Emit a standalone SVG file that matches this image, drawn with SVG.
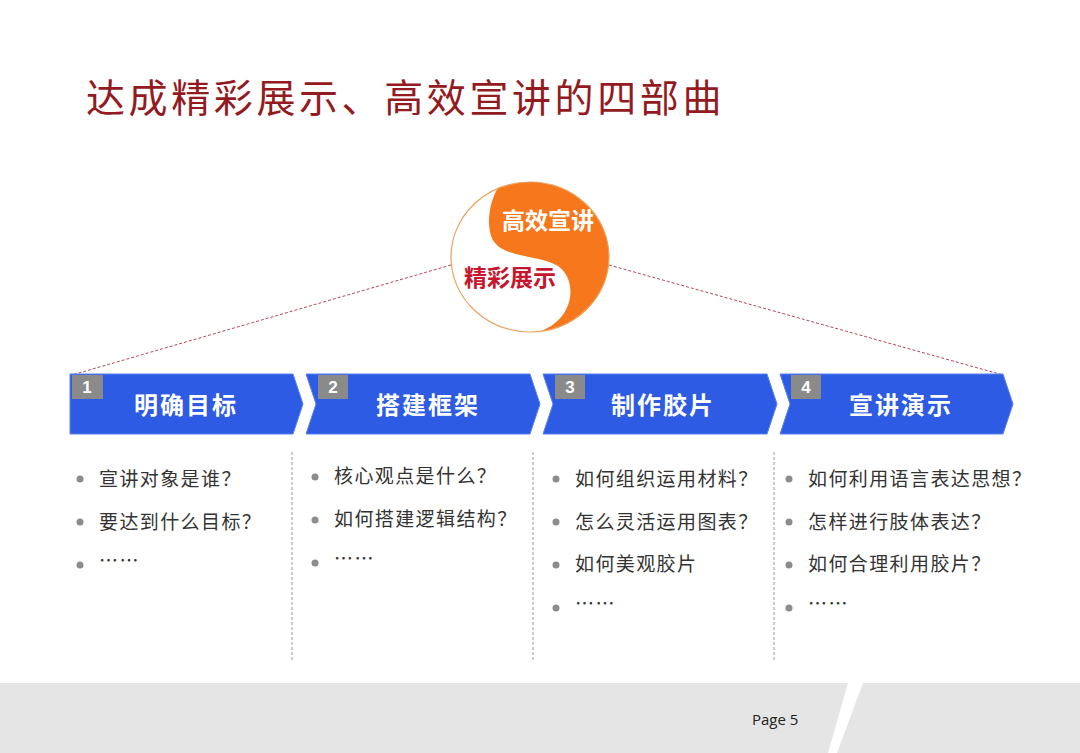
<svg xmlns="http://www.w3.org/2000/svg" width="1080" height="753" viewBox="0 0 1080 753">
<defs>
<clipPath id="circ"><ellipse cx="530" cy="257" rx="79" ry="75"/></clipPath>
</defs>
<style>
.title{font-family:"Noto Sans CJK SC","Liberation Serif",serif;font-size:39px;fill:#931B1F;letter-spacing:3.6px}
.chev{fill:#2D5BE4;stroke:#5C82EE;stroke-width:1}
.numbox{fill:#8A8A8A}
.num{font-family:"Liberation Sans",Arial,sans-serif;font-weight:bold;font-size:17px;fill:#fff;text-anchor:middle}
.lbl{font-family:"Noto Sans CJK SC",sans-serif;font-weight:bold;font-size:24px;fill:#fff;text-anchor:middle;letter-spacing:2px}
.item{font-family:"Noto Sans CJK SC",sans-serif;font-size:19px;fill:#333;letter-spacing:1.4px}
.dot{fill:#8C8C8C}
.sep{stroke:#9A9A9A;stroke-width:1;stroke-dasharray:3 2;fill:none}
.conn{stroke:#B0485A;stroke-width:1;stroke-dasharray:3 2;fill:none}
.yy{font-family:"Noto Sans CJK SC",sans-serif;font-weight:bold;font-size:23px;text-anchor:middle}
</style>
<rect width="1080" height="753" fill="#fff"/>
<text class="title" x="86" y="112">达成精彩展示、高效宣讲的四部曲</text>

<g id="connectors">
<line class="conn" x1="451" y1="265" x2="72" y2="375"/>
<line class="conn" x1="609" y1="265" x2="1003" y2="375"/>
</g>

<g id="yinyang">
<ellipse cx="530" cy="257" rx="79" ry="75" fill="#fff"/>
<path clip-path="url(#circ)" d="M 508 176 C 488 192, 484 230, 495 243 C 507 258, 540 255, 558 266 C 578 280, 575 318, 541 331 L 535 345 L 625 345 L 625 170 L 508 170 Z" fill="#F7781C"/>
<ellipse cx="530" cy="257" rx="79" ry="75" fill="none" stroke="#E9A25F" stroke-width="1.2"/>
<text class="yy" x="548" y="229" fill="#fff">高效宣讲</text>
<text class="yy" x="510" y="286" fill="#C5162E">精彩展示</text>
</g>

<g id="step1">
<path class="chev" d="M70 374 H293 L303 404 L293 434 H70 Z"/>
<rect class="numbox" x="72" y="375" width="31" height="24"/>
<text class="num" x="87" y="393">1</text>
<text class="lbl" x="186" y="414">明确目标</text>
</g>
<g id="step2">
<path class="chev" d="M306 374 H530 L540 404 L530 434 H306 L316 404 Z"/>
<rect class="numbox" x="318" y="375" width="30" height="24"/>
<text class="num" x="333" y="393">2</text>
<text class="lbl" x="428" y="414">搭建框架</text>
</g>
<g id="step3">
<path class="chev" d="M543 374 H767 L777 404 L767 434 H543 L553 404 Z"/>
<rect class="numbox" x="555" y="375" width="30" height="24"/>
<text class="num" x="570" y="393">3</text>
<text class="lbl" x="663" y="414">制作胶片</text>
</g>
<g id="step4">
<path class="chev" d="M780 374 H1003 L1013 404 L1003 434 H780 L790 404 Z"/>
<rect class="numbox" x="791" y="375" width="30" height="24"/>
<text class="num" x="806" y="393">4</text>
<text class="lbl" x="901" y="414">宣讲演示</text>
</g>

<g id="separators">
<line class="sep" x1="292" y1="452" x2="292" y2="662"/>
<line class="sep" x1="533" y1="452" x2="533" y2="662"/>
<line class="sep" x1="774" y1="452" x2="774" y2="662"/>
</g>

<g id="list1">
<circle class="dot" cx="80" cy="479" r="3.5"/><text class="item" x="99" y="486">宣讲对象是谁？</text>
<circle class="dot" cx="80" cy="522" r="3.5"/><text class="item" x="99" y="529">要达到什么目标？</text>
<circle class="dot" cx="80" cy="565" r="3.5"/><text class="item" x="99" y="568">……</text>
</g>
<g id="list2">
<circle class="dot" cx="315" cy="477" r="3.5"/><text class="item" x="334" y="483">核心观点是什么？</text>
<circle class="dot" cx="315" cy="520" r="3.5"/><text class="item" x="334" y="526">如何搭建逻辑结构？</text>
<circle class="dot" cx="315" cy="563" r="3.5"/><text class="item" x="334" y="566">……</text>
</g>
<g id="list3">
<circle class="dot" cx="556" cy="479" r="3.5"/><text class="item" x="575" y="486">如何组织运用材料？</text>
<circle class="dot" cx="556" cy="522" r="3.5"/><text class="item" x="575" y="529">怎么灵活运用图表？</text>
<circle class="dot" cx="556" cy="565" r="3.5"/><text class="item" x="575" y="571">如何美观胶片</text>
<circle class="dot" cx="556" cy="608" r="3.5"/><text class="item" x="575" y="611">……</text>
</g>
<g id="list4">
<circle class="dot" cx="789" cy="479" r="3.5"/><text class="item" x="808" y="486">如何利用语言表达思想？</text>
<circle class="dot" cx="789" cy="522" r="3.5"/><text class="item" x="808" y="529">怎样进行肢体表达？</text>
<circle class="dot" cx="789" cy="565" r="3.5"/><text class="item" x="808" y="571">如何合理利用胶片？</text>
<circle class="dot" cx="789" cy="608" r="3.5"/><text class="item" x="808" y="611">……</text>
</g>

<g id="footer">
<path d="M0 683 H848 L828 753 H0 Z" fill="#E5E5E5"/>
<path d="M863 683 H1080 V753 H837 Z" fill="#E5E5E5"/>
<text x="752" y="725" font-family="Open Sans,Liberation Sans,sans-serif" font-size="15" fill="#222">Page 5</text>
</g>
</svg>
